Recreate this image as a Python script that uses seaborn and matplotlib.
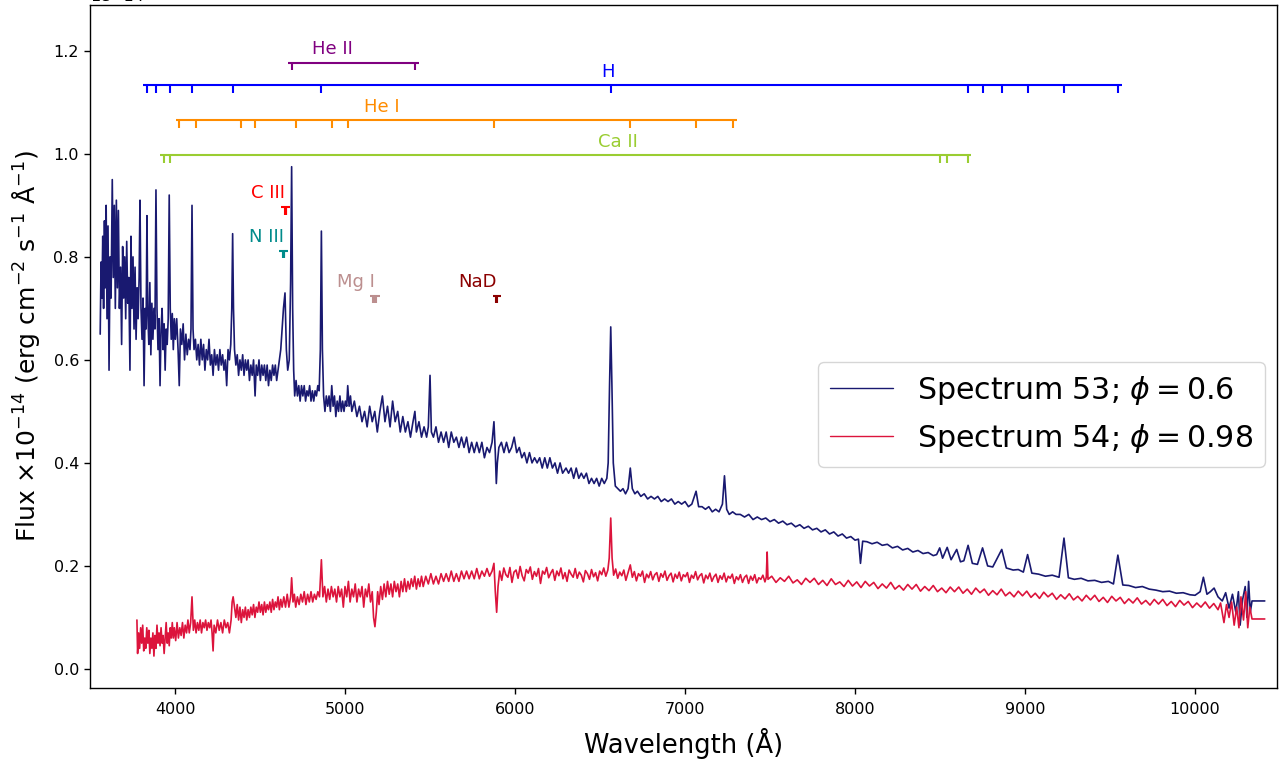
import numpy as np
import pandas as pd
import matplotlib
matplotlib.use("Agg")
import matplotlib.pyplot as plt
import seaborn as sns

SCALE = 1e-14

# Spectrum 53 (phi = 0.6): (wavelength [A], flux [1e-14 erg/cm2/s/A])
spec53 = [
    (3560, 0.65), (3565, 0.79), (3570, 0.72), (3575, 0.84), (3580, 0.70), (3585, 0.87),
    (3590, 0.74), (3595, 0.90), (3600, 0.68), (3606, 0.86), (3612, 0.58), (3618, 0.80),
    (3624, 0.72), (3631, 0.95), (3637, 0.76), (3643, 0.90), (3649, 0.70), (3655, 0.91),
    (3661, 0.74), (3667, 0.89), (3673, 0.70), (3680, 0.78), (3686, 0.63), (3692, 0.82),
    (3698, 0.72), (3704, 0.80), (3710, 0.68), (3716, 0.83), (3722, 0.71), (3728, 0.76),
    (3735, 0.58), (3741, 0.84), (3747, 0.70), (3753, 0.80), (3759, 0.66), (3765, 0.78),
    (3771, 0.64), (3777, 0.74), (3783, 0.68), (3789, 0.76), (3794, 0.91), (3800, 0.70),
    (3806, 0.64), (3812, 0.72), (3818, 0.55), (3824, 0.70), (3830, 0.66), (3835, 0.88),
    (3840, 0.69), (3846, 0.63), (3852, 0.75), (3858, 0.61), (3864, 0.71), (3870, 0.64),
    (3876, 0.70), (3882, 0.66), (3888, 0.93), (3894, 0.70), (3900, 0.62), (3906, 0.68),
    (3912, 0.55), (3918, 0.66), (3924, 0.70), (3930, 0.62), (3936, 0.67), (3942, 0.58),
    (3948, 0.66), (3954, 0.63), (3960, 0.68), (3966, 0.92), (3972, 0.70), (3978, 0.64),
    (3984, 0.69), (3990, 0.62), (3996, 0.68), (4002, 0.64), (4010, 0.68), (4018, 0.62),
    (4025, 0.55), (4032, 0.66), (4040, 0.63), (4048, 0.67), (4056, 0.60), (4064, 0.65),
    (4072, 0.61), (4080, 0.64), (4088, 0.62), (4094, 0.66), (4100, 0.90), (4106, 0.66),
    (4112, 0.62), (4120, 0.64), (4128, 0.60), (4136, 0.63), (4144, 0.59), (4152, 0.64),
    (4160, 0.60), (4168, 0.63), (4176, 0.58), (4184, 0.62), (4192, 0.60), (4200, 0.64),
    (4208, 0.59), (4216, 0.61), (4224, 0.57), (4232, 0.62), (4240, 0.59), (4248, 0.61),
    (4256, 0.58), (4264, 0.62), (4272, 0.59), (4280, 0.61), (4288, 0.58), (4296, 0.60),
    (4304, 0.55), (4312, 0.62), (4320, 0.60), (4328, 0.63), (4334, 0.70), (4339, 0.845),
    (4344, 0.70), (4350, 0.62), (4358, 0.59), (4366, 0.61), (4374, 0.57), (4382, 0.60),
    (4390, 0.58), (4398, 0.61), (4406, 0.57), (4414, 0.60), (4422, 0.58), (4430, 0.60),
    (4438, 0.56), (4446, 0.59), (4454, 0.57), (4462, 0.60), (4471, 0.53), (4478, 0.59),
    (4486, 0.57), (4494, 0.60), (4502, 0.56), (4510, 0.59), (4518, 0.57), (4526, 0.59),
    (4534, 0.56), (4542, 0.59), (4550, 0.55), (4558, 0.58), (4566, 0.56), (4574, 0.59),
    (4582, 0.57), (4590, 0.59), (4598, 0.56), (4606, 0.58), (4614, 0.60), (4622, 0.62),
    (4630, 0.66), (4638, 0.70), (4647, 0.73), (4655, 0.62), (4663, 0.58), (4672, 0.60),
    (4680, 0.75), (4686, 0.975), (4692, 0.70), (4698, 0.58), (4704, 0.53), (4712, 0.56),
    (4720, 0.53), (4728, 0.55), (4736, 0.52), (4744, 0.55), (4752, 0.53), (4760, 0.55),
    (4768, 0.52), (4776, 0.54), (4784, 0.53), (4792, 0.55), (4800, 0.52), (4808, 0.54),
    (4816, 0.52), (4824, 0.54), (4832, 0.53), (4840, 0.55), (4848, 0.54), (4855, 0.62),
    (4861, 0.85), (4867, 0.62), (4874, 0.53), (4882, 0.50), (4890, 0.53), (4898, 0.51),
    (4906, 0.53), (4914, 0.50), (4922, 0.55), (4930, 0.51), (4938, 0.53), (4946, 0.49),
    (4954, 0.52), (4962, 0.50), (4970, 0.53), (4978, 0.50), (4986, 0.52), (4994, 0.50),
    (5002, 0.52), (5010, 0.51), (5016, 0.55), (5024, 0.51), (5032, 0.53), (5040, 0.50),
    (5055, 0.52), (5070, 0.49), (5085, 0.51), (5100, 0.48), (5115, 0.50), (5130, 0.47),
    (5145, 0.51), (5160, 0.48), (5175, 0.50), (5190, 0.46), (5205, 0.50), (5220, 0.53),
    (5235, 0.48), (5250, 0.51), (5265, 0.47), (5280, 0.52), (5295, 0.48), (5310, 0.50),
    (5325, 0.46), (5340, 0.49), (5355, 0.46), (5370, 0.48), (5385, 0.45), (5400, 0.48),
    (5411, 0.50), (5420, 0.46), (5435, 0.48), (5450, 0.45), (5465, 0.47), (5480, 0.45),
    (5490, 0.47), (5500, 0.57), (5508, 0.46), (5520, 0.45), (5535, 0.47), (5550, 0.44),
    (5565, 0.46), (5580, 0.44), (5595, 0.46), (5610, 0.43), (5625, 0.46), (5640, 0.44),
    (5655, 0.45), (5670, 0.43), (5685, 0.45), (5700, 0.43), (5715, 0.45), (5730, 0.42),
    (5745, 0.44), (5760, 0.42), (5775, 0.44), (5790, 0.42), (5805, 0.44), (5820, 0.41),
    (5835, 0.43), (5850, 0.42), (5865, 0.44), (5876, 0.48), (5884, 0.42), (5890, 0.36),
    (5896, 0.40), (5905, 0.43), (5920, 0.44), (5935, 0.42), (5950, 0.44), (5965, 0.42),
    (5980, 0.43), (5995, 0.45), (6010, 0.42), (6025, 0.43), (6040, 0.41), (6055, 0.42),
    (6070, 0.40), (6085, 0.42), (6100, 0.40), (6115, 0.41), (6130, 0.40), (6145, 0.41),
    (6160, 0.39), (6175, 0.41), (6190, 0.39), (6205, 0.41), (6220, 0.39), (6235, 0.40),
    (6250, 0.38), (6265, 0.40), (6280, 0.38), (6300, 0.39), (6315, 0.38), (6330, 0.39),
    (6345, 0.37), (6360, 0.39), (6375, 0.37), (6390, 0.38), (6405, 0.37), (6420, 0.38),
    (6435, 0.36), (6450, 0.37), (6465, 0.36), (6480, 0.37), (6495, 0.355), (6510, 0.37),
    (6525, 0.36), (6540, 0.37), (6548, 0.40), (6556, 0.55), (6563, 0.664), (6570, 0.55),
    (6578, 0.40), (6590, 0.355), (6605, 0.35), (6620, 0.345), (6635, 0.35), (6650, 0.34),
    (6665, 0.35), (6678, 0.39), (6690, 0.35), (6705, 0.34), (6720, 0.345), (6740, 0.335),
    (6760, 0.34), (6780, 0.33), (6800, 0.335), (6820, 0.33), (6840, 0.335), (6860, 0.325),
    (6880, 0.33), (6900, 0.325), (6920, 0.33), (6940, 0.32), (6960, 0.325), (6980, 0.32),
    (7000, 0.325), (7020, 0.315), (7040, 0.32), (7065, 0.345), (7080, 0.315), (7100, 0.315),
    (7120, 0.31), (7140, 0.315), (7160, 0.305), (7180, 0.31), (7200, 0.305), (7220, 0.32),
    (7232, 0.375), (7245, 0.31), (7260, 0.30), (7280, 0.305), (7300, 0.30), (7325, 0.30),
    (7350, 0.295), (7375, 0.30), (7400, 0.29), (7425, 0.295), (7450, 0.29), (7475, 0.293),
    (7500, 0.286), (7525, 0.29), (7550, 0.283), (7575, 0.287), (7600, 0.28), (7625, 0.283),
    (7650, 0.276), (7675, 0.28), (7700, 0.273), (7725, 0.277), (7750, 0.27), (7775, 0.273),
    (7800, 0.266), (7825, 0.27), (7850, 0.262), (7875, 0.266), (7900, 0.258), (7925, 0.262),
    (7950, 0.254), (7975, 0.257), (8000, 0.25), (8020, 0.252), (8032, 0.205), (8045, 0.248),
    (8070, 0.247), (8100, 0.243), (8130, 0.246), (8160, 0.24), (8190, 0.242), (8220, 0.235),
    (8250, 0.238), (8280, 0.231), (8310, 0.234), (8340, 0.227), (8370, 0.23), (8400, 0.224),
    (8430, 0.226), (8460, 0.22), (8480, 0.222), (8498, 0.235), (8515, 0.215), (8542, 0.236),
    (8565, 0.212), (8598, 0.232), (8620, 0.208), (8640, 0.21), (8665, 0.24), (8690, 0.205),
    (8720, 0.203), (8750, 0.235), (8780, 0.2), (8810, 0.198), (8863, 0.232), (8890, 0.196),
    (8930, 0.192), (8960, 0.193), (8990, 0.188), (9015, 0.222), (9040, 0.186), (9080, 0.184),
    (9120, 0.18), (9160, 0.182), (9200, 0.178), (9229, 0.254), (9255, 0.177), (9290, 0.174),
    (9330, 0.176), (9370, 0.171), (9410, 0.172), (9450, 0.168), (9490, 0.17), (9520, 0.165),
    (9546, 0.221), (9575, 0.163), (9610, 0.162), (9650, 0.158), (9690, 0.16), (9730, 0.155),
    (9770, 0.153), (9810, 0.15), (9850, 0.151), (9890, 0.147), (9930, 0.148), (9970, 0.144),
    (10000, 0.143), (10030, 0.15), (10049, 0.178), (10070, 0.145), (10090, 0.15),
    (10112, 0.157), (10135, 0.14), (10160, 0.132), (10180, 0.148), (10200, 0.118),
    (10220, 0.145), (10240, 0.11), (10255, 0.15), (10265, 0.085), (10280, 0.135),
    (10295, 0.16), (10305, 0.10), (10315, 0.17), (10325, 0.11), (10335, 0.132), (10410, 0.132),
]

# Spectrum 54 (phi = 0.98)
spec54 = [
    (3776, 0.095), (3780, 0.03), (3786, 0.07), (3792, 0.04), (3798, 0.08), (3804, 0.05),
    (3810, 0.085), (3816, 0.035), (3822, 0.06), (3828, 0.04), (3834, 0.08), (3840, 0.05),
    (3846, 0.075), (3852, 0.03), (3858, 0.06), (3864, 0.04), (3870, 0.07), (3876, 0.025),
    (3882, 0.065), (3888, 0.04), (3894, 0.085), (3900, 0.05), (3906, 0.07), (3912, 0.045),
    (3918, 0.08), (3924, 0.05), (3930, 0.065), (3936, 0.03), (3942, 0.06), (3948, 0.09),
    (3954, 0.05), (3960, 0.07), (3966, 0.045), (3972, 0.08), (3978, 0.06), (3984, 0.09),
    (3990, 0.06), (3996, 0.08), (4004, 0.055), (4012, 0.09), (4020, 0.06), (4028, 0.08),
    (4036, 0.065), (4044, 0.09), (4052, 0.06), (4060, 0.085), (4068, 0.07), (4076, 0.095),
    (4084, 0.07), (4092, 0.09), (4100, 0.14), (4108, 0.075), (4116, 0.095), (4124, 0.07),
    (4132, 0.09), (4140, 0.075), (4148, 0.095), (4156, 0.07), (4164, 0.09), (4172, 0.08),
    (4180, 0.095), (4188, 0.075), (4196, 0.09), (4204, 0.08), (4212, 0.095), (4218, 0.07),
    (4224, 0.035), (4230, 0.085), (4240, 0.07), (4250, 0.095), (4260, 0.075), (4270, 0.09),
    (4280, 0.07), (4290, 0.095), (4300, 0.08), (4310, 0.09), (4320, 0.07), (4330, 0.095),
    (4336, 0.13), (4342, 0.14), (4350, 0.12), (4358, 0.10), (4366, 0.125), (4374, 0.095),
    (4382, 0.12), (4390, 0.09), (4398, 0.115), (4406, 0.10), (4414, 0.12), (4422, 0.095),
    (4430, 0.115), (4438, 0.10), (4446, 0.12), (4454, 0.105), (4462, 0.125), (4470, 0.10),
    (4478, 0.12), (4486, 0.11), (4494, 0.13), (4502, 0.11), (4510, 0.125), (4518, 0.105),
    (4526, 0.13), (4534, 0.11), (4542, 0.125), (4550, 0.115), (4558, 0.13), (4566, 0.11),
    (4574, 0.135), (4582, 0.115), (4590, 0.13), (4598, 0.12), (4606, 0.14), (4614, 0.115),
    (4622, 0.135), (4630, 0.12), (4640, 0.14), (4650, 0.12), (4660, 0.145), (4670, 0.12),
    (4680, 0.14), (4686, 0.177), (4694, 0.13), (4702, 0.145), (4710, 0.12), (4720, 0.14),
    (4730, 0.125), (4740, 0.145), (4750, 0.13), (4760, 0.15), (4770, 0.125), (4780, 0.145),
    (4790, 0.13), (4800, 0.15), (4810, 0.13), (4820, 0.145), (4830, 0.135), (4840, 0.15),
    (4850, 0.14), (4861, 0.212), (4870, 0.14), (4880, 0.16), (4890, 0.13), (4900, 0.155),
    (4910, 0.135), (4920, 0.16), (4930, 0.14), (4940, 0.155), (4950, 0.13), (4960, 0.16),
    (4970, 0.14), (4980, 0.155), (4990, 0.12), (5000, 0.16), (5010, 0.14), (5020, 0.17),
    (5030, 0.13), (5040, 0.155), (5050, 0.14), (5060, 0.165), (5070, 0.13), (5080, 0.155),
    (5090, 0.14), (5100, 0.16), (5110, 0.12), (5120, 0.155), (5130, 0.14), (5140, 0.165),
    (5150, 0.13), (5160, 0.15), (5168, 0.10), (5176, 0.082), (5184, 0.11), (5192, 0.15),
    (5200, 0.125), (5210, 0.16), (5220, 0.135), (5230, 0.165), (5240, 0.14), (5250, 0.17),
    (5260, 0.145), (5270, 0.165), (5280, 0.14), (5290, 0.17), (5300, 0.15), (5310, 0.165),
    (5320, 0.14), (5330, 0.17), (5340, 0.15), (5350, 0.175), (5360, 0.15), (5370, 0.17),
    (5380, 0.155), (5390, 0.175), (5400, 0.16), (5410, 0.18), (5420, 0.155), (5430, 0.175),
    (5440, 0.16), (5450, 0.18), (5460, 0.16), (5475, 0.18), (5490, 0.165), (5505, 0.185),
    (5520, 0.165), (5535, 0.18), (5550, 0.165), (5565, 0.185), (5580, 0.17), (5595, 0.185),
    (5610, 0.17), (5625, 0.19), (5640, 0.17), (5655, 0.185), (5670, 0.17), (5685, 0.19),
    (5700, 0.175), (5715, 0.19), (5730, 0.175), (5745, 0.19), (5760, 0.175), (5775, 0.195),
    (5790, 0.175), (5805, 0.19), (5820, 0.18), (5835, 0.195), (5850, 0.18), (5865, 0.19),
    (5876, 0.205), (5884, 0.15), (5892, 0.11), (5900, 0.16),
    (5910, 0.19), (5922, 0.172), (5934, 0.196), (5946, 0.183), (5958, 0.178), (5970, 0.197),
    (5982, 0.168), (5994, 0.188), (6006, 0.192), (6018, 0.176), (6030, 0.199), (6042, 0.181),
    (6054, 0.171), (6066, 0.193), (6078, 0.186), (6090, 0.198), (6102, 0.174), (6114, 0.189),
    (6126, 0.18), (6138, 0.195), (6150, 0.166), (6162, 0.19), (6174, 0.184), (6186, 0.197),
    (6198, 0.177), (6210, 0.186), (6222, 0.193), (6234, 0.172), (6246, 0.19), (6258, 0.181),
    (6270, 0.196), (6282, 0.175), (6294, 0.187), (6306, 0.17), (6318, 0.192), (6330, 0.184),
    (6342, 0.178), (6354, 0.195), (6366, 0.176), (6378, 0.188), (6390, 0.182), (6402, 0.169),
    (6414, 0.191), (6426, 0.185), (6438, 0.174), (6450, 0.193), (6462, 0.179), (6474, 0.187),
    (6486, 0.171), (6498, 0.19), (6510, 0.183), (6522, 0.196), (6534, 0.18), (6546, 0.192),
    (6554, 0.215), (6563, 0.293), (6571, 0.215), (6580, 0.182),
    (6592, 0.194), (6604, 0.176), (6616, 0.188), (6628, 0.181), (6640, 0.192), (6652, 0.172),
    (6664, 0.186), (6678, 0.202), (6690, 0.178), (6702, 0.189), (6714, 0.171), (6726, 0.185),
    (6738, 0.18), (6750, 0.19), (6762, 0.168), (6774, 0.184), (6786, 0.177), (6798, 0.189),
    (6810, 0.173), (6822, 0.183), (6834, 0.187), (6846, 0.17), (6858, 0.185), (6870, 0.178),
    (6882, 0.19), (6894, 0.172), (6906, 0.181), (6918, 0.186), (6930, 0.169), (6942, 0.184),
    (6954, 0.176), (6966, 0.188), (6978, 0.171), (6990, 0.183), (7002, 0.179), (7014, 0.187),
    (7026, 0.168), (7038, 0.182), (7050, 0.176), (7062, 0.189), (7074, 0.173), (7086, 0.181),
    (7098, 0.185), (7110, 0.167), (7122, 0.182), (7134, 0.175), (7146, 0.186), (7158, 0.17),
    (7170, 0.179), (7182, 0.184), (7194, 0.168), (7206, 0.181), (7218, 0.174), (7230, 0.186),
    (7242, 0.169), (7254, 0.18), (7266, 0.176), (7278, 0.184), (7290, 0.166), (7302, 0.179),
    (7314, 0.173), (7326, 0.183), (7338, 0.168), (7350, 0.178), (7362, 0.182), (7374, 0.166),
    (7386, 0.18), (7398, 0.172), (7410, 0.183), (7422, 0.167), (7434, 0.177), (7446, 0.174),
    (7458, 0.182), (7470, 0.169), (7478, 0.178), (7483, 0.227), (7488, 0.174),
    (7510, 0.180), (7535, 0.168), (7560, 0.177), (7585, 0.170), (7610, 0.180), (7635, 0.167),
    (7660, 0.173), (7685, 0.164), (7710, 0.176), (7735, 0.168), (7760, 0.176), (7785, 0.164),
    (7810, 0.172), (7835, 0.162), (7860, 0.175), (7885, 0.164), (7910, 0.169), (7935, 0.160),
    (7960, 0.172), (7985, 0.161), (8010, 0.169), (8035, 0.158), (8060, 0.170), (8085, 0.161),
    (8110, 0.168), (8135, 0.156), (8160, 0.165), (8185, 0.157), (8210, 0.168), (8235, 0.155),
    (8260, 0.162), (8285, 0.153), (8310, 0.164), (8335, 0.155), (8360, 0.164), (8385, 0.151),
    (8410, 0.160), (8435, 0.152), (8460, 0.162), (8485, 0.150), (8510, 0.157), (8535, 0.148),
    (8560, 0.159), (8585, 0.150), (8610, 0.159), (8635, 0.147), (8660, 0.155), (8685, 0.145),
    (8710, 0.157), (8735, 0.148), (8760, 0.155), (8785, 0.143), (8810, 0.152), (8835, 0.144),
    (8860, 0.155), (8885, 0.142), (8910, 0.149), (8935, 0.140), (8960, 0.151), (8985, 0.142),
    (9010, 0.151), (9035, 0.139), (9060, 0.147), (9085, 0.137), (9110, 0.149), (9135, 0.140),
    (9160, 0.147), (9185, 0.135), (9210, 0.144), (9235, 0.136), (9260, 0.146), (9285, 0.134),
    (9310, 0.141), (9335, 0.132), (9360, 0.143), (9385, 0.134), (9410, 0.143), (9435, 0.131),
    (9460, 0.139), (9485, 0.129), (9510, 0.141), (9535, 0.132), (9560, 0.139), (9585, 0.127),
    (9610, 0.136), (9635, 0.128), (9660, 0.138), (9685, 0.126), (9710, 0.133), (9735, 0.124),
    (9760, 0.135), (9785, 0.126), (9810, 0.135), (9835, 0.123), (9860, 0.131), (9885, 0.121),
    (9910, 0.133), (9935, 0.124), (9960, 0.131), (9985, 0.119), (10010, 0.128), (10035, 0.120),
    (10060, 0.130), (10085, 0.118), (10110, 0.127),
    (10135, 0.115), (10150, 0.128), (10170, 0.09),
    (10185, 0.125), (10200, 0.10), (10215, 0.13), (10230, 0.085), (10245, 0.12),
    (10258, 0.08), (10270, 0.14), (10285, 0.095), (10298, 0.15), (10310, 0.08),
    (10322, 0.12), (10335, 0.097), (10410, 0.097),
]

# Line identifications (rest wavelengths, A)
line_lists = {
    "He II": [4685.7, 5411.5],
    "H": [3835.4, 3889.0, 3970.1, 4101.7, 4340.5, 4861.3, 6562.8,
          8665.0, 8750.5, 8862.8, 9014.9, 9229.0, 9545.9],
    "He I": [4026.2, 4120.8, 4387.9, 4471.5, 4713.1, 4921.9, 5015.7,
             5875.6, 6678.2, 7065.2, 7281.4],
    "Ca II": [3933.7, 3968.5, 8498.0, 8542.1, 8662.1],
    "C III": [4647.4, 4650.3, 4651.5],
    "N III": [4634.1, 4640.6, 4641.9],
    "Mg I": [5167.3, 5172.7, 5183.6],
    "NaD": [5890.0, 5895.9],
}
line_colors = {
    "He II": "purple", "H": "blue", "He I": "darkorange", "Ca II": "yellowgreen",
    "C III": "red", "N III": "darkcyan", "Mg I": "rosybrown", "NaD": "darkred",
}
line_levels = {
    "He II": 1.177, "H": 1.133, "He I": 1.065, "Ca II": 0.997,
    "C III": 0.897, "N III": 0.812, "Mg I": 0.725, "NaD": 0.725,
}

labels = [r"Spectrum 53; $\phi = 0.6$", r"Spectrum 54; $\phi = 0.98$"]
colors = ["midnightblue", "crimson"]

sns.set_style("ticks")
plt.rcParams["font.family"] = ["DejaVu Sans"]
plt.rcParams["mathtext.fontset"] = "dejavusans"
plt.rcParams["axes.edgecolor"] = "black"
plt.rcParams["axes.linewidth"] = 1.0
plt.rcParams["xtick.color"] = "black"
plt.rcParams["ytick.color"] = "black"
plt.rcParams["text.color"] = "black"
plt.rcParams["axes.labelcolor"] = "black"

fig = plt.figure(figsize=(12.88, 7.63), dpi=100)
ax = fig.add_axes([90 / 1288, 75 / 763, 1187 / 1288, 683 / 763])

for spec, lab, col in zip([spec53, spec54], labels, colors):
    df = pd.DataFrame(spec, columns=["wl", "flux"])
    df["flux"] = df["flux"] * SCALE
    sns.lineplot(data=df, x="wl", y="flux", color=col, lw=1.2, label=lab,
                 estimator=None, sort=False, ax=ax)

for name, lams in line_lists.items():
    y = line_levels[name] * SCALE
    c = line_colors[name]
    ax.hlines(y, min(lams) - 22, max(lams) + 22, color=c, lw=1.5)
    ax.vlines(lams, y - 0.015 * SCALE, y, color=c, lw=1.5)
    ax.text(np.mean(lams), y + 0.017 * SCALE, name, color=c, ha="right",
            va="baseline", fontsize=13)

ax.set_xlim(3500, 10482)
ax.set_ylim(-0.037 * SCALE, 1.289 * SCALE)
ax.set_xticks([4000, 5000, 6000, 7000, 8000, 9000, 10000])
ax.set_yticks(np.arange(0, 1.21, 0.2) * SCALE)
ax.tick_params(labelsize=11.5, length=4.5, width=1.0)
ax.tick_params(axis="x", pad=5.5)
ax.yaxis.get_offset_text().set_fontsize(11.5)
for s in ax.spines.values():
    s.set_visible(True)
ax.set_xlabel("Wavelength (Å)", fontsize=18.5, labelpad=8)
ax.set_ylabel(r"Flux $\times10^{-14}$ (erg cm$^{-2}$ s$^{-1}$ Å$^{-1}$)",
              fontsize=18, labelpad=8)

leg = ax.legend(loc="center right", bbox_to_anchor=(0.990, 0.401), borderaxespad=0,
                fontsize=21.6, frameon=True, handlelength=2.1)
for h in leg.get_lines():
    h.set_linewidth(1.0)

fig.savefig("out.png", dpi=100)
